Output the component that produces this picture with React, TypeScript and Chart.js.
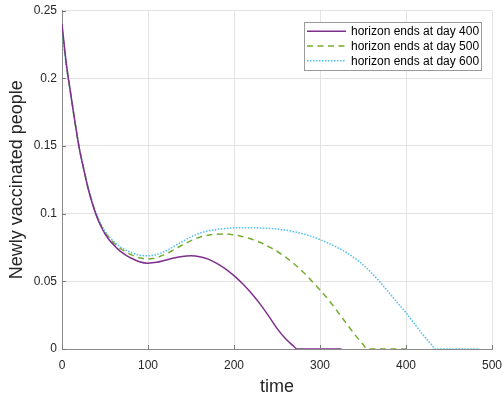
import React, { useEffect, useRef } from "react";
import { Chart, registerables } from "chart.js";

Chart.register(...registerables);

const seriesLabels = [
  "horizon ends at day 400",
  "horizon ends at day 500",
  "horizon ends at day 600",
];
const seriesColors = ["#7E2F8E", "#77AC30", "#4DBEEE"];

const tPurple = [0, 5, 10, 15, 20, 25, 30, 35, 40, 45, 50, 55, 60, 65, 70, 75,
  80, 90, 100, 110, 120, 130, 140, 150, 160, 170, 180, 190, 200, 210, 220, 230, 240, 250, 260, 270,
  273, 280, 290, 300, 310, 320, 325];
const vPurple = [0.240, 0.211, 0.189, 0.168, 0.1485, 0.1335, 0.1195, 0.108, 0.0985, 0.091, 0.085, 0.0805, 0.077, 0.0738, 0.0712, 0.069,
  0.0672, 0.0645, 0.0634, 0.0640, 0.0656, 0.0672, 0.0684, 0.0688, 0.0682, 0.0664, 0.0632, 0.0592, 0.0542, 0.0482, 0.0414, 0.0335, 0.0246, 0.0152, 0.0075, 0.0017,
  0, 0, 0, 0, 0, 0, 0];

const tGreen = [0, 5, 10, 15, 20, 25, 30, 35, 40, 45, 50, 55, 60, 65, 70, 75,
  80, 90, 100, 110, 120, 130, 140, 150, 160, 170, 180, 190, 200, 210, 220, 230, 240, 250, 260, 270, 280, 290, 300, 310, 320, 330, 340, 350,
  355, 360, 370, 380, 390, 400];
const vGreen = [0.237, 0.210, 0.189, 0.168, 0.1487, 0.1338, 0.1199, 0.1085, 0.0992, 0.0917, 0.0862, 0.0818, 0.0785, 0.0756, 0.0733, 0.0713,
  0.0697, 0.0674, 0.0665, 0.0675, 0.0700, 0.0733, 0.0768, 0.0800, 0.0825, 0.0840, 0.0848, 0.0849, 0.0842, 0.0830, 0.0812, 0.0788, 0.0757, 0.0722, 0.0678, 0.0628, 0.0570, 0.0505, 0.0436, 0.0362, 0.0280, 0.0195, 0.0110, 0.0035,
  0, 0, 0, 0, 0, 0];

const tCyan = [0, 5, 10, 15, 20, 25, 30, 35, 40, 45, 50, 55, 60, 65, 70, 75,
  80, 90, 100, 110, 120, 130, 140, 150, 160, 170, 180, 190, 200, 210, 220, 230, 240, 250, 260, 270, 280, 290, 300, 310, 320, 330, 340, 350, 360, 370, 380, 390, 400, 410, 420, 430,
  434, 440, 450, 460, 470, 480, 485];
const vCyan = [0.235, 0.209, 0.188, 0.168, 0.149, 0.134, 0.1203, 0.109, 0.0998, 0.0925, 0.0870, 0.0828, 0.0795, 0.0768, 0.0746, 0.0728,
  0.0713, 0.0693, 0.0688, 0.0698, 0.0722, 0.0757, 0.0794, 0.0828, 0.0855, 0.0872, 0.0883, 0.0890, 0.0895, 0.0896, 0.0896, 0.0894, 0.0891, 0.0886, 0.0878, 0.0866, 0.0851, 0.0832, 0.0808, 0.0781, 0.0750, 0.0715, 0.0673, 0.0622, 0.0562, 0.0493, 0.0418, 0.0342, 0.0268, 0.0185, 0.0103, 0.003,
  0, 0, 0, 0, 0, 0, 0];

const xTicks = [0, 100, 200, 300, 400, 500];
const yTicks = [0, 0.05, 0.1, 0.15, 0.2, 0.25];
const yTickLabels = ["0", "0.05", "0.1", "0.15", "0.2", "0.25"];
const xTitle = "time";
const yTitle = "Newly vaccinated people";

const FONT = "'Liberation Sans', Arial, Helvetica, sans-serif";
const dashes = [[], [6, 4.5], [1.5, 1.5]];

function zip(t: number[], v: number[]) {
  return t.map((x, i) => ({ x, y: v[i] }));
}

const innerTicks = {
  id: "innerTicks",
  afterDraw(chart: any) {
    const { ctx, chartArea, scales } = chart;
    ctx.save();
    ctx.strokeStyle = "#7a7a7a";
    ctx.lineWidth = 1;
    ctx.beginPath();
    xTicks.forEach((v) => {
      const px = Math.round(scales.x.getPixelForValue(v)) + 0.5;
      ctx.moveTo(px, chartArea.bottom);
      ctx.lineTo(px, chartArea.bottom - 4);
    });
    yTicks.forEach((v) => {
      const py = Math.round(scales.y.getPixelForValue(v)) + 0.5;
      ctx.moveTo(chartArea.left, py);
      ctx.lineTo(chartArea.left + 4, py);
    });
    ctx.stroke();
    ctx.restore();
  },
};

const boxLegend = {
  id: "boxLegend",
  afterDraw(chart: any) {
    const { ctx } = chart;
    const bx = 304.5, by = 22.5, bw = 177, bh = 48;
    ctx.save();
    ctx.fillStyle = "#ffffff";
    ctx.fillRect(bx, by, bw, bh);
    ctx.strokeStyle = "#9a9a9a";
    ctx.lineWidth = 1;
    ctx.strokeRect(bx, by, bw, bh);
    const rows = [31.3, 46, 60.7];
    chart.data.datasets.forEach((ds: any, i: number) => {
      const y = rows[i];
      ctx.beginPath();
      ctx.setLineDash(ds.borderDash || []);
      ctx.strokeStyle = ds.borderColor;
      ctx.lineWidth = ds.borderWidth;
      ctx.moveTo(307, y);
      ctx.lineTo(346, y);
      ctx.stroke();
      ctx.setLineDash([]);
      ctx.fillStyle = "#000000";
      ctx.font = `12px ${FONT}`;
      ctx.textBaseline = "middle";
      ctx.textAlign = "left";
      ctx.fillText(ds.label, 351, y + 0.5);
    });
    ctx.restore();
  },
};

export default function App() {
  const ref = useRef<HTMLCanvasElement | null>(null);

  useEffect(() => {
    if (!ref.current) return;
    const series = [zip(tPurple, vPurple), zip(tGreen, vGreen), zip(tCyan, vCyan)];
    const chart = new Chart(ref.current, {
      type: "line",
      data: {
        datasets: series.map((d, i) => ({
          label: seriesLabels[i],
          data: d,
          borderColor: seriesColors[i],
          backgroundColor: seriesColors[i],
          borderWidth: 1.5,
          borderDash: dashes[i],
          pointRadius: 0,
          fill: false,
          cubicInterpolationMode: "monotone" as const,
        })),
      },
      options: {
        animation: false,
        responsive: false,
        layout: { padding: { left: 0, top: 10.5, right: 12, bottom: 0 } },
        plugins: { legend: { display: false }, tooltip: { enabled: false } },
        scales: {
          x: {
            type: "linear",
            min: 0,
            max: 500,
            afterBuildTicks: (s: any) => {
              s.ticks = xTicks.map((v) => ({ value: v }));
            },
            afterFit: (s: any) => {
              s.height = 49;
              s.paddingLeft = 0;
              s.paddingRight = 0;
            },
            ticks: {
              padding: 9,
              color: "#262626",
              font: { family: FONT, size: 12 },
              maxRotation: 0,
            },
            grid: { color: "#e3e3e3", drawTicks: false },
            border: { color: "#8a8a8a", width: 1 },
            title: {
              display: true,
              text: xTitle,
              color: "#262626",
              font: { family: FONT, size: 18 },
              padding: { top: 2, bottom: 0 },
            },
          },
          y: {
            type: "linear",
            min: 0,
            max: 0.25,
            afterBuildTicks: (s: any) => {
              s.ticks = yTicks.map((v) => ({ value: v }));
            },
            afterFit: (s: any) => {
              s.width = 62;
              s.paddingTop = 0;
              s.paddingBottom = 0;
            },
            ticks: {
              padding: 5,
              color: "#262626",
              font: { family: FONT, size: 12 },
              callback: (v: any) => {
                const idx = yTicks.findIndex((t) => Math.abs(t - Number(v)) < 1e-9);
                return idx >= 0 ? yTickLabels[idx] : "";
              },
            },
            grid: { color: "#e3e3e3", drawTicks: false },
            border: { color: "#8a8a8a", width: 1 },
            title: {
              display: true,
              text: yTitle,
              color: "#262626",
              font: { family: FONT, size: 18 },
              padding: { top: 6, bottom: 0 },
            },
          },
        },
      },
      plugins: [innerTicks, boxLegend],
    });
    return () => chart.destroy();
  }, []);

  return (
    <div style={{ position: "fixed", left: 0, top: 0, width: 504, height: 398, background: "#ffffff" }}>
      <canvas ref={ref} width={504} height={398} style={{ display: "block" }} />
    </div>
  );
}
